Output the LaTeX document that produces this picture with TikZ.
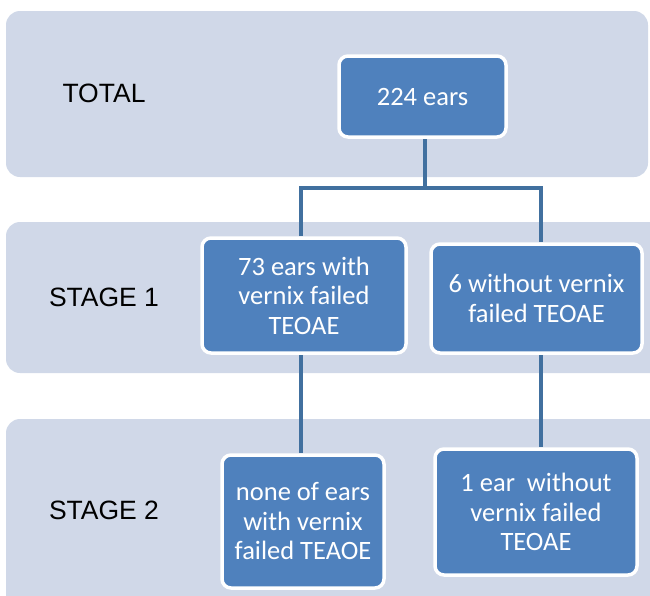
\documentclass[tikz,border=0pt]{standalone}
\usepackage{fontspec}
\setmainfont{Liberation Sans}
\newfontfamily\boxfont{Carlito}
\usetikzlibrary{backgrounds}
\definecolor{bandfill}{HTML}{D0D8E8}
\definecolor{boxfill}{HTML}{4F81BD}
\definecolor{linecol}{HTML}{41709F}
\tikzset{
  band/.style={fill=bandfill, rounded corners=14pt},
  stagelabel/.style={font=\fontsize{26.5}{30}\selectfont, text=black},
  ebox/.style={fill=boxfill, draw=white, line width=3.5pt, rounded corners=9pt,
    text=white, align=center, inner sep=0pt,
    font=\boxfont\fontsize{26.5}{29.5}\selectfont},
  conn/.style={draw=linecol, line width=4pt}
}
\begin{document}
\begin{tikzpicture}[x=1pt,y=-1pt]
\useasboundingbox (0,0) rectangle (650,595);
\clip (0,0) rectangle (650,595);
% boxes
\node[ebox, minimum width=167pt, minimum height=81pt] (top) at (422.5,96.5) {224 ears};
\node[ebox, minimum width=204pt, minimum height=115pt] (b1) at (304,295.5) {73 ears with\\vernix failed\\TEOAE};
\node[ebox, minimum width=211pt, minimum height=109pt] (b2) at (536.5,298.5) {6 without vernix\\failed TEOAE};
\node[ebox, minimum width=162pt, minimum height=133pt] (b3) at (303,521.5) {none of ears\\with vernix\\failed TEAOE};
\node[ebox, minimum width=202pt, minimum height=126pt] (b4) at (536,512) {1 ear\ \ without\\vernix failed\\TEOAE};
% stage labels
\node[stagelabel] (lt) at (104,93) {TOTAL};
\node[stagelabel] (l1) at (104,297) {STAGE 1};
\node[stagelabel] (l2) at (104,510) {STAGE 2};
\begin{scope}[on background layer]
  \fill[band] (6,11) rectangle (648,177);
  \fill[band] (6,222) rectangle (665,373);
  \fill[band] (6,419) rectangle (665,620);
\end{scope}
\begin{scope}[on background layer]
  \coordinate (jl) at (301,188);
  \coordinate (jr) at (541,188);
  \coordinate (jm) at (425,188);
  \draw[conn] (jm |- top.south) -- (jm);
  \draw[conn] (jl |- b1.north) -- (jl) -- (jr) -- (jr |- b2.north);
  \draw[conn] (jl |- b1.south) -- (jl |- b3.north);
  \draw[conn] (jr |- b2.south) -- (jr |- b4.north);
\end{scope}
\end{tikzpicture}
\end{document}
